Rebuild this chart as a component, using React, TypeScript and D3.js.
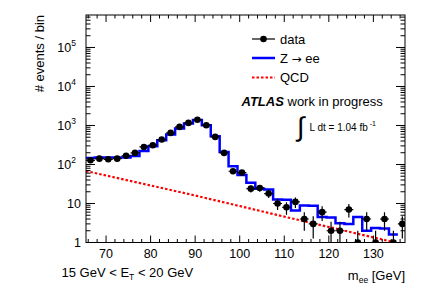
import React from "react";
import * as d3 from "d3";

// binning of the mass histogram (GeV)
const binStart = 65.5;
const binWidth = 2;

// data counts per bin
const dataCounts = [
  128, 141, 136, 141, 167, 198, 282, 312, 437, 645, 920, 1166, 1400, 1018, 509,
  198, 67, 62, 24, 25, 18, 10, 8, 11, 4, 3, 6, 2, 2, 7, 1, 4, 1, 4, 1, 3,
];

// Z -> ee MC expectation per bin
const zeeCounts = [
  147, 150, 150, 150, 152, 165, 222, 294, 419, 587, 835, 1125, 1390, 1018, 530,
  210, 90, 54, 34, 24, 23, 12.7, 12.5, 6.6, 8.9, 8.7, 4.5, 4.4, 3.1, 3.0, 4.5,
  2.0, 2.35, 2.3, 1.6,
];

// QCD background curve
const qcdMass = [65.5, 80, 90, 100, 110, 120, 130, 137];
const qcdValues = [68, 29, 16, 8.6, 4.6, 2.5, 1.35, 0.88];

const xTickLabels = [70, 80, 90, 100, 110, 120, 130];
const yTickLabels = [1, 10, 100, 1000, 10000, 100000];

const W = 427;
const H = 290;
const left = 86;
const right = 405;
const top = 15;
const bottom = 242.5;
const font = "'Liberation Sans', Arial, Helvetica, sans-serif";

const App = () => {
  const x = d3.scaleLinear().domain([65.5, 137.1]).range([left, right]);
  const y = d3.scaleLog().domain([1, 6.8e5]).range([bottom, top]);

  const edges = d3.range(zeeCounts.length + 1).map((i) => binStart + i * binWidth);
  const zeeLine = d3
    .line<number>()
    .x((d, i) => x(edges[i]))
    .y((d) => y(d))
    .curve(d3.curveStepAfter);
  const zeePts = [...zeeCounts, zeeCounts[zeeCounts.length - 1]];

  const qcdLine = d3
    .line<number>()
    .x((d, i) => x(qcdMass[i]))
    .y((d) => y(d));

  const yMin = y.domain()[0];
  const clampY = (v: number) => (v <= yMin ? bottom : Math.max(top, y(v)));

  const xMinor = d3.range(66, 137, 2);
  const yAll = y.ticks();
  const isMajorY = (t: number) => Math.abs(Math.log10(t) - Math.round(Math.log10(t))) < 1e-9;

  return (
    <svg width={W} height={H} style={{ position: "absolute", left: 0, top: 0 }} fontFamily={font}>
      <rect x={0} y={0} width={W} height={H} fill="#fff" />
      <defs>
        <clipPath id="frame">
          <rect x={left} y={top} width={right - left} height={bottom - top} />
        </clipPath>
      </defs>

      {/* curves */}
      <g clipPath="url(#frame)">
        <path
          d={qcdLine(qcdValues) || ""}
          fill="none"
          stroke="#ff0000"
          strokeWidth={2.2}
          strokeDasharray="2.5 2"
        />
        <path d={zeeLine(zeePts) || ""} fill="none" stroke="#0000ff" strokeWidth={2.5} />
        {dataCounts.map((n, i) => {
          const c = binStart + (i + 0.5) * binWidth;
          const err = Math.sqrt(n);
          return (
            <g key={i}>
              <line
                x1={x(c)}
                x2={x(c)}
                y1={clampY(n + err)}
                y2={clampY(n - err)}
                stroke="#000"
                strokeWidth={1.2}
              />
              <line
                x1={x(c - binWidth / 2)}
                x2={x(c + binWidth / 2)}
                y1={y(n)}
                y2={y(n)}
                stroke="#000"
                strokeWidth={1.2}
              />
              <circle cx={x(c)} cy={y(n)} r={3.3} fill="#000" />
            </g>
          );
        })}
      </g>

      {/* frame */}
      <rect x={left} y={top} width={right - left} height={bottom - top} fill="none" stroke="#000" strokeWidth={1} />

      {/* x ticks (bottom & top) */}
      {xMinor.map((t) => {
        const major = t % 10 === 0;
        const len = major ? 7 : 3.5;
        return (
          <g key={t} stroke="#000" strokeWidth={1}>
            <line x1={x(t)} x2={x(t)} y1={bottom} y2={bottom - len} />
            <line x1={x(t)} x2={x(t)} y1={top} y2={top + len} />
          </g>
        );
      })}
      {xTickLabels.map((t) => (
        <text key={t} x={x(t)} y={258} textAnchor="middle" fontSize={12.5}>
          {t}
        </text>
      ))}

      {/* y ticks (left & right) */}
      {yAll.map((t) => {
        const len = isMajorY(t) ? 9 : 4.5;
        return (
          <g key={t} stroke="#000" strokeWidth={1}>
            <line x1={left} x2={left + len} y1={y(t)} y2={y(t)} />
            <line x1={right} x2={right - len} y1={y(t)} y2={y(t)} />
          </g>
        );
      })}
      {yTickLabels.map((t) => {
        const p = Math.round(Math.log10(t));
        return (
          <text key={t} x={p < 2 ? 81 : 76} y={y(t) + 4.5} textAnchor="end" fontSize={12.5}>
            {p < 2 ? String(t) : "10"}
            {p >= 2 && (
              <tspan dy={-5.5} fontSize={8.5}>
                {p}
              </tspan>
            )}
          </text>
        );
      })}

      {/* axis titles */}
      <text transform="translate(44,15) rotate(-90)" textAnchor="end" fontSize={13}>
        # events / bin
      </text>
      <text x={405} y={279.5} textAnchor="end" fontSize={13}>
        m<tspan fontSize={8.5} dy={3}>ee</tspan>
        <tspan dy={-3}> [GeV]</tspan>
      </text>
      <text x={61.5} y={276.5} fontSize={13}>
        15 GeV &lt; E<tspan fontSize={8.5} dy={3}>T</tspan>
        <tspan dy={-3}> &lt; 20 GeV</tspan>
      </text>

      {/* legend */}
      <g>
        <line x1={252} x2={275} y1={39} y2={39} stroke="#000" strokeWidth={1.2} />
        <circle cx={263.5} cy={39} r={3.3} fill="#000" />
        <text x={280} y={43.5} fontSize={13}>data</text>
        <line x1={252} x2={275} y1={58} y2={58} stroke="#0000ff" strokeWidth={2.5} />
        <text x={280} y={62.7} fontSize={13}>
          Z <tspan fontFamily="'DejaVu Sans', sans-serif" fontSize={12}>→</tspan> ee
        </text>
        <line x1={252} x2={275} y1={77.5} y2={77.5} stroke="#ff0000" strokeWidth={2.2} strokeDasharray="2.5 2" />
        <text x={280} y={82} fontSize={13}>QCD</text>
      </g>

      {/* ATLAS label */}
      <text x={241.5} y={105.5} fontSize={13}>
        <tspan fontWeight="bold" fontStyle="italic">ATLAS</tspan> work in progress
      </text>
      <text x={297} y={136} fontSize={27} fontFamily="'DejaVu Sans', sans-serif" fontWeight={200}>
        ∫
      </text>
      <text x={309.5} y={131} fontSize={10}>
        L dt = 1.04 fb<tspan dy={-5} fontSize={7}> -1</tspan>
      </text>
    </svg>
  );
};

export default App;
